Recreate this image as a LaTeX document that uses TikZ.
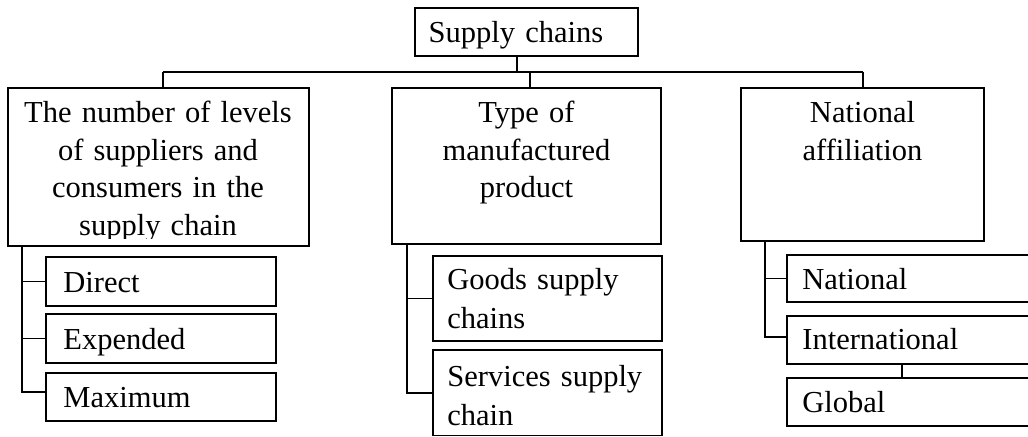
\documentclass[tikz,border=0pt]{standalone}
\usepackage{fontspec}
\setmainfont{Liberation Serif}
\usetikzlibrary{fit}
\begin{document}
\begin{tikzpicture}[x=0.5pt,y=-0.5pt,
  ln/.style={line width=0.75pt},
  box/.style={draw, line width=0.75pt, inner sep=0pt},
  headtxt/.style={font=\fontsize{15.25}{18.75}\selectfont, text width=#1, align=center, inner sep=0pt, anchor=base},
  leaftxt/.style={font=\fontsize{15.25}{19.25}\selectfont, text width=110pt, align=left, inner sep=0pt, anchor=base west}]
\useasboundingbox (0,0) rectangle (1028,437);
\clip (0,0) rectangle (1028,437);
% boxes
\node[box, fit={(415,8) (638,56)}] (root) {};
\node[box, fit={(8,88) (309,246)}] (b1) {};
\node[box, fit={(392,88) (661,244)}] (b2) {};
\node[box, fit={(741,88) (984,241)}] (b3) {};
\node[box, fit={(46,257) (276,306)}] (c11) {};
\node[box, fit={(46,314) (276,363)}] (c12) {};
\node[box, fit={(46,373) (276,421)}] (c13) {};
\node[box, fit={(433,256) (662,341)}] (c21) {};
\node[box, fit={(433,350) (662,435.5)}] (c22) {};
\node[box, fit={(787,255) (1040,302)}] (c31) {};
\node[box, fit={(787,316) (1040,364)}] (c32) {};
\node[box, fit={(787,378) (1040,426)}] (c33) {};
% texts
\node[headtxt=120pt] (t0) at (516,43) {Supply chains};
\begin{scope}
\clip (8,88) rectangle (309,239);
\node[headtxt=150pt] (t1) at (158,123) {The number of levels\\of suppliers and\\consumers in the\\supply chain};
\end{scope}
\node[headtxt=130pt] (t2) at (526.5,123) {Type of\\manufactured\\product};
\node[headtxt=120pt] (t3) at (862.5,123) {National\\affiliation};
\node[leaftxt] (l11) at (63,293) {Direct};
\node[leaftxt] (l12) at (63,350) {Expended};
\node[leaftxt] (l13) at (63,408) {Maximum};
\node[leaftxt] (l21) at (447,290) {Goods supply\\chains};
\node[leaftxt] (l22) at (447,387) {Services supply\\chain};
\node[leaftxt] (l31) at (802,290) {National};
\node[leaftxt] (l32) at (802,350) {International};
\node[leaftxt] (l33) at (802,413) {Global};
% connectors
\coordinate (bus0) at (517,72);
\coordinate (busL) at (163,72);
\coordinate (busM) at (530,72);
\coordinate (busR) at (863,72);
\draw[ln] (root.south -| bus0) -- (bus0);
\draw[ln] (busL) -- (busR);
\draw[ln] (busL) -- (b1.north -| busL);
\draw[ln] (busM) -- (b2.north -| busM);
\draw[ln] (busR) -- (b3.north -| busR);
\coordinate (sL) at (22,392);
\draw[ln] (b1.south -| sL) -- (sL) -- (sL -| c13.west);
\draw[ln] (sL |- c11.west) -- (c11.west);
\draw[ln] (sL |- c12.west) -- (c12.west);
\coordinate (sM) at (407,393);
\draw[ln] (b2.south -| sM) -- (sM) -- (sM -| c22.west);
\draw[ln] (sM |- c21.west) -- (c21.west);
\coordinate (sR) at (765,337);
\draw[ln] (b3.south -| sR) -- (sR) -- (sR -| c32.west);
\draw[ln] (sR |- c31.west) -- (c31.west);
\coordinate (g) at (902,370);
\draw[ln] (c32.south -| g) -- (c33.north -| g);
\end{tikzpicture}
\end{document}
